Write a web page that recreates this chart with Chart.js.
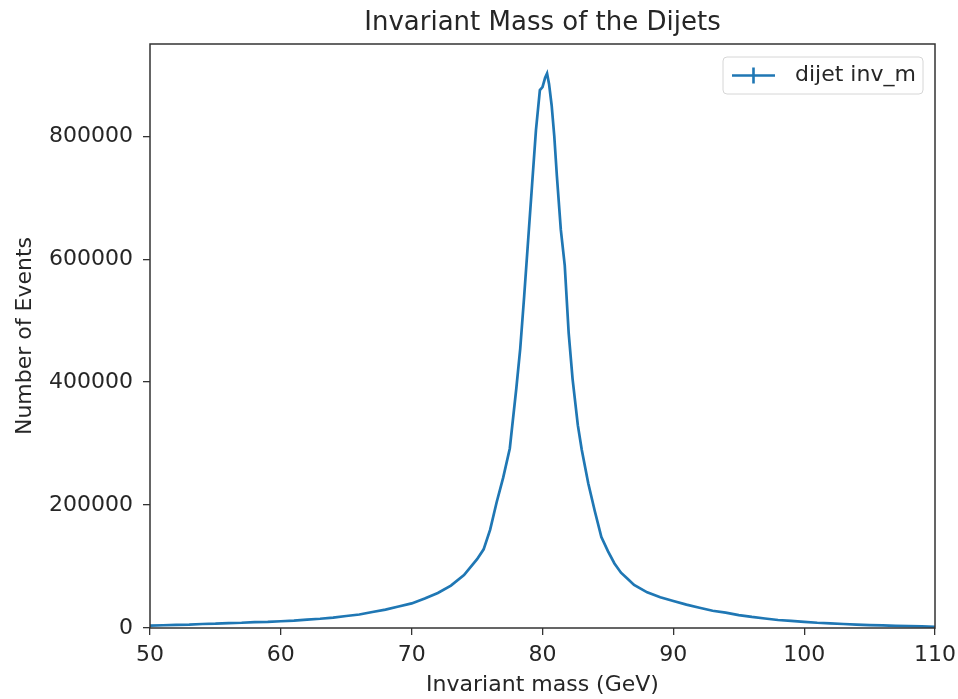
<!DOCTYPE html>
<html>
<head>
<meta charset="utf-8">
<script src="https://cdn.jsdelivr.net/npm/chart.js@4.4.1/dist/chart.umd.min.js"></script>
<style>
  html, body { margin: 0; padding: 0; background: #fff; }
</style>
</head>
<body>
<canvas id="chart" width="958" height="699"></canvas>
<script>
// invariant mass bins (GeV) and counts
const massBins = [
  50, 51, 52, 53, 54, 55, 56, 57, 58, 59, 60, 61, 62, 63, 64, 65, 66, 67, 68, 69,
  70, 71, 72, 73, 74, 75, 75.5, 76, 76.5, 77, 77.5, 78, 78.3, 78.6, 78.9, 79.2, 79.5, 79.8,
  80.0, 80.2, 80.35, 80.5, 80.7, 80.9, 81.1, 81.4, 81.7, 82.0, 82.3, 82.7, 83.0, 83.5,
  84, 84.5, 85, 85.5, 86, 86.5, 87, 88, 89, 90, 91, 92, 93, 94, 95, 96, 97, 98, 99,
  100, 101, 102, 103, 104, 105, 106, 107, 108, 109, 110
];
const eventCounts = [
  4000, 4500, 5000, 5500, 6500, 7000, 8000, 8500, 9500, 10000, 11000, 12000, 13500, 15000, 17000, 19500, 22000, 26000, 30000, 35000,
  40000, 48000, 57000, 69000, 86000, 112000, 128000, 160000, 205000, 245000, 292000, 390000, 455000, 540000, 630000, 720000, 810000, 875000,
  880000, 895000, 902000, 885000, 850000, 800000, 735000, 648000, 590000, 480000, 405000, 330000, 290000, 235000,
  190000, 148000, 125000, 105000, 90000, 80000, 70000, 58000, 50000, 44000, 38000, 33000, 28000, 25000, 21000, 18000, 15500, 13000, 11500,
  10000, 8500, 7500, 6500, 5500, 4800, 4200, 3500, 3000, 2500, 2000
];
const xTicks = [50, 60, 70, 80, 90, 100, 110];
const yTicks = [0, 200000, 400000, 600000, 800000];

const blue = '#1f77b4';
const ink = '#333';
const textInk = '#262626';

// frame, title and legend box in matplotlib style
const mplDecor = {
  id: 'mplDecor',
  afterDraw(chart) {
    const { ctx, chartArea: a } = chart;
    ctx.save();
    ctx.strokeStyle = ink;
    ctx.lineWidth = 1.5;
    ctx.strokeRect(a.left, a.top, a.right - a.left, a.bottom - a.top);

    ctx.fillStyle = textInk;
    ctx.font = '26px "DejaVu Sans"';
    ctx.textAlign = 'center';
    ctx.textBaseline = 'middle';
    ctx.fillText('Invariant Mass of the Dijets', (a.left + a.right) / 2, 23);

    // legend
    const w = 200, h = 37;
    const x = a.right - 12 - w, y = a.top + 13;
    ctx.beginPath();
    ctx.roundRect(x, y, w, h, 4);
    ctx.fillStyle = 'rgba(255,255,255,0.8)';
    ctx.fill();
    ctx.strokeStyle = '#d6d6d6';
    ctx.lineWidth = 1;
    ctx.stroke();
    const cy = y + h / 2;
    ctx.strokeStyle = blue;
    ctx.lineWidth = 2.6;
    ctx.beginPath();
    ctx.moveTo(x + 9, cy); ctx.lineTo(x + 52, cy);
    ctx.moveTo(x + 30.5, cy - 8); ctx.lineTo(x + 30.5, cy + 8);
    ctx.stroke();
    ctx.fillStyle = textInk;
    ctx.font = '22px "DejaVu Sans"';
    ctx.textAlign = 'left';
    ctx.fillText('dijet inv_m', x + 72, cy);
    ctx.restore();
  }
};

new Chart(document.getElementById('chart'), {
  type: 'line',
  data: {
    datasets: [{
      label: 'dijet inv_m',
      data: massBins.map((m, i) => ({ x: m, y: eventCounts[i] })),
      borderColor: blue,
      borderWidth: 2.7,
      pointRadius: 0,
      tension: 0,
      fill: false
    }]
  },
  options: {
    responsive: false,
    animation: false,
    layout: { padding: { top: 44, right: 23, left: 0, bottom: 0 } },
    plugins: { legend: { display: false }, title: { display: false }, tooltip: { enabled: false } },
    scales: {
      x: {
        type: 'linear',
        min: 50,
        max: 110,
        afterBuildTicks: s => { s.ticks = xTicks.map(v => ({ value: v })); },
        afterFit: s => { s.height = 71; s.paddingLeft = 0; s.paddingRight = 0; },
        grid: { drawOnChartArea: false, drawTicks: true, tickLength: 7, color: ink, lineWidth: 1.3 },
        border: { display: false },
        ticks: { color: textInk, font: { family: 'DejaVu Sans', size: 22 }, padding: 7, maxRotation: 0 },
        title: { display: true, text: 'Invariant mass (GeV)', color: textInk,
                 font: { family: 'DejaVu Sans', size: 22 }, padding: { top: 0, bottom: 1 } }
      },
      y: {
        min: 0,
        max: 950000,
        afterBuildTicks: s => { s.ticks = yTicks.map(v => ({ value: v })); },
        afterFit: s => { s.width = 150; s.paddingTop = 0; s.paddingBottom = 0; },
        grid: { drawOnChartArea: false, drawTicks: true, tickLength: 7, color: ink, lineWidth: 1.3 },
        border: { display: false },
        ticks: { color: textInk, font: { family: 'DejaVu Sans', size: 22 }, padding: 10,
                 callback: v => String(v) },
        title: { display: true, text: 'Number of Events', color: textInk,
                 font: { family: 'DejaVu Sans', size: 22 }, padding: { top: 12, bottom: 0 } }
      }
    }
  },
  plugins: [mplDecor]
});
</script>
</body>
</html>
